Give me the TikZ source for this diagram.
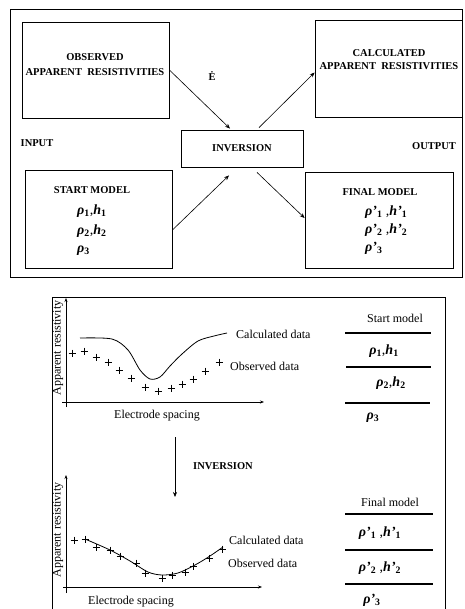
\documentclass[tikz,border=0pt]{standalone}
\usepackage{fontspec}
\setmainfont{Liberation Serif}
\usetikzlibrary{arrows.meta}

% layer values, bold italic
\newcommand{\rr}[1]{\textbf{\textit{ρ}}\textsubscript{\textbf{#1}}}
\newcommand{\hh}[1]{\textbf{\textit{h}}\textsubscript{\textbf{#1}}}
\newcommand{\rp}[1]{\textbf{\textit{ρ'}}\textsubscript{\textbf{#1}}}
\newcommand{\hp}[1]{\textbf{\textit{h'}}\textsubscript{\textbf{#1}}}

\begin{document}
\begin{tikzpicture}[x=1pt,y=-1pt]
\tikzset{box/.style={draw,line width=0.8pt,inner sep=0pt},
  captxt/.style={font=\bfseries\fontsize{10.5}{15}\selectfont,align=center,inner sep=0pt},
  lbl/.style={font=\fontsize{12}{14}\selectfont,inner sep=0pt},
  val/.style={font=\fontsize{14}{16}\selectfont,inner sep=0pt},
  arr/.style={-{Stealth[length=5pt,width=4pt]},line width=0.6pt},
  ax/.style={-{Stealth[length=4pt,width=3pt]},line width=0.8pt},
  rule/.style={line width=1.2pt},
  pls/.style={line width=0.8pt}}
\useasboundingbox (0,0) rectangle (464,609);

% upper scheme
\draw[line width=1pt] (10,10) rectangle (462,277);
\node[box,minimum width=147pt,minimum height=96pt] (obs) at (95.5,70) {};
\node[captxt] (obstxt) at (95,64.5) {OBSERVED\\APPARENT\ \ RESISTIVITIES};
\node[box,minimum width=147pt,minimum height=97pt] (calc) at (388.5,68.5) {};
\node[captxt,font=\bfseries\fontsize{10.5}{13}\selectfont] (calctxt) at (389,59.5) {CALCULATED\\APPARENT\ \ RESISTIVITIES};
\node[captxt] (mark) at (212,76) {\.E};
\node[captxt] (input) at (37,143) {INPUT};
\node[captxt] (output) at (434,146) {OUTPUT};
\node[box,captxt,minimum width=122pt,minimum height=37pt] (inv) at (242,148.5) {INVERSION};
\node[box,minimum width=147pt,minimum height=98pt] (start) at (98.5,219) {};
\node[captxt] (starttxt) at (92,190) {START MODEL};
\node[val,anchor=west] (s1) at (77,211) {\rr1,\hh1};
\node[val,anchor=west] (s2) at (77,231) {\rr2,\hh2};
\node[val,anchor=west] (s3) at (77,251) {\rr3};
\node[box,minimum width=148pt,minimum height=96pt] (final) at (379,220) {};
\node[captxt] (finaltxt) at (380,192) {FINAL MODEL};
\node[val,anchor=west] (f1) at (365,212) {\rp1 ,\hp1};
\node[val,anchor=west] (f2) at (365,230) {\rp2 ,\hp2};
\node[val,anchor=west] (f3) at (365,248) {\rp3};

\draw[arr] (obs.east) -- ([xshift=-12pt,yshift=1pt]inv.north);
\draw[arr] ([xshift=17pt,yshift=2pt]inv.north) -- ([yshift=-4pt]calc.west);
\draw[arr] ([yshift=-11pt]start.east) -- ([xshift=-13pt,yshift=-8pt]inv.south);
\draw[arr] ([xshift=15pt,yshift=-5pt]inv.south) -- ([yshift=2pt]final.west);

% lower scheme
\draw[line width=0.8pt] (52,612) -- (52,297) -- (445,297) -- (445,612);

% before inversion
\draw[ax] (66,407) -- (66,298);
\draw[ax] (62,402) -- (264,402);
\node[lbl,rotate=90] (ylab1) at (58,348) {Apparent resistivity};
\node[lbl] (xlab1) at (157,416) {Electrode spacing};
\draw[line width=0.8pt] plot[smooth] coordinates {(80,338) (112,339) (128,350) (140,370) (150,379) (160,377) (170,366) (182,354) (198,341) (214,336) (227,333)};
\foreach \x/\y in {72/353,84/351,96/357,108/362,119/370,131/378,145/387,158/391,171/388,182/384,193/379,205/371,219/362}
  \draw[pls] (\x-3.5,\y) -- (\x+3.5,\y) (\x,\y-3.5) -- (\x,\y+3.5);
\node[lbl,anchor=west] (calc1) at (236,334) {Calculated data};
\node[lbl,anchor=west] (obs1) at (230,366) {Observed data};

\node[lbl] (smodel) at (395,318) {Start model};
\draw[rule] (345,333) -- (431,333) (346,367) -- (431,367) (345,403) -- (430,403);
\node[val] (t1) at (384,351) {\rr1,\hh1};
\node[val] (t2) at (391,383) {\rr2,\hh2};
\node[val] (t3) at (373,418) {\rr3};

% inversion step
\draw[arr] (175,437) -- (175,497);
\node[captxt] (inv2) at (223,466) {INVERSION};

% after inversion
\draw[ax] (66,593) -- (66,475);
\draw[ax] (63,587) -- (262,587);
\node[lbl,rotate=90] (ylab2) at (58,530) {Apparent resistivity};
\node[lbl] (xlab2) at (131,602) {Electrode spacing};
\draw[line width=0.8pt] plot[smooth] coordinates {(85,539) (110,550) (130,561) (148,572) (162,575) (178,573) (195,565) (210,556) (223,547)};
\foreach \x/\y in {74/540,85/539,96/547,110/550,120/556,136/563,145/573,162/578,172/575,185/572,193/566,209/558,222/549}
  \draw[pls] (\x-3.5,\y) -- (\x+3.5,\y) (\x,\y-3.5) -- (\x,\y+3.5);
\node[lbl,anchor=west] (calc2) at (229,540) {Calculated data};
\node[lbl,anchor=west] (obs2) at (228,563) {Observed data};

\node[lbl] (fmodel) at (390,502) {Final model};
\draw[rule] (345,514) -- (433,514) (345,550) -- (433,550) (345,584) -- (433,584);
\node[val] (u1) at (380,533) {\rp1 ,\hp1};
\node[val] (u2) at (380,568) {\rp2 ,\hp2};
\node[val] (u3) at (372,600) {\rp3};
\end{tikzpicture}
\end{document}
